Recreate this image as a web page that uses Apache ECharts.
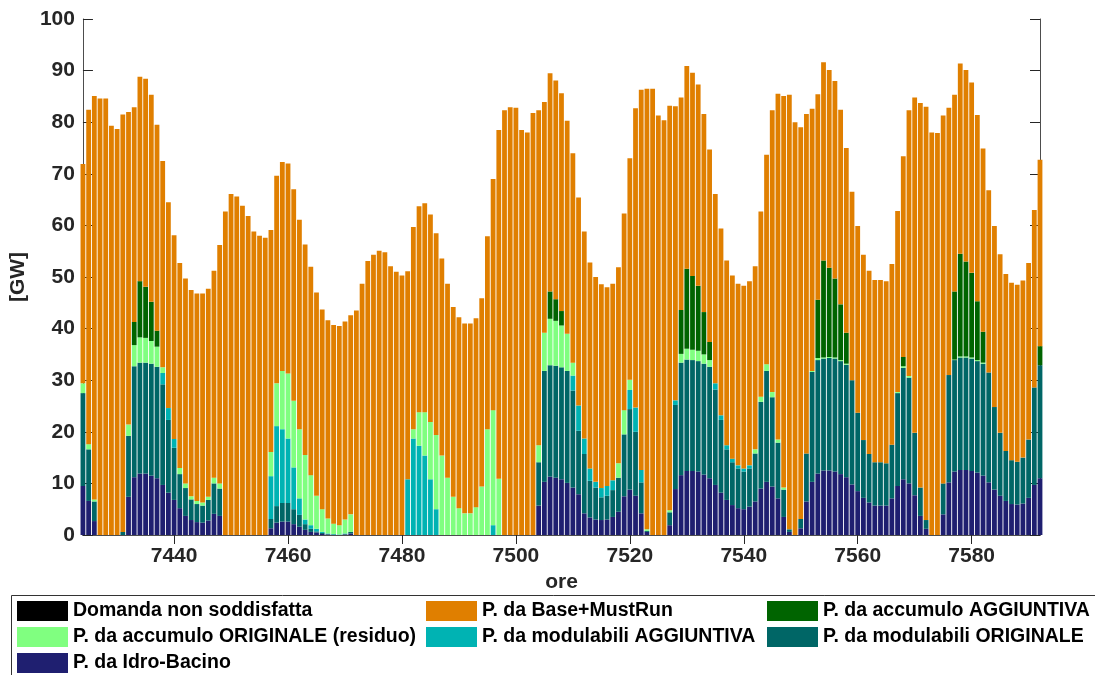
<!DOCTYPE html>
<html>
<head>
<meta charset="utf-8">
<script src="https://cdn.jsdelivr.net/npm/echarts@6/dist/echarts.min.js"></script>
<style>
  html, body { margin: 0; padding: 0; background: #ffffff; }
  #chart { width: 1095px; height: 675px; }
</style>
</head>
<body>
<div id="chart"></div>
<script>
// Ore dell'anno: prima e ultima barra tagliate a metà dai bordi dell'asse
const oraInizio = 7424;
const oraFine = 7592;
const passoEtichette = 20;

// Domanda oraria totale [GW] (cima di ogni barra)
const domandaTotale = [
  71.9, 82.4, 85.1, 84.6, 84.6, 79.3, 78.7, 81.5, 82.0, 82.9,
  88.8, 88.4, 85.3, 79.5, 72.5, 64.5, 58.1, 52.7, 49.7, 47.5,
  46.8, 46.8, 47.7, 51.2, 56.2, 62.7, 66.1, 65.6, 63.8, 61.8,
  58.8, 58.0, 57.6, 59.1, 69.6, 72.3, 72.0, 67.0, 61.1, 56.3,
  52.0, 47.0, 43.7, 41.6, 40.7, 40.5, 41.4, 42.6, 43.5, 48.7,
  53.1, 54.3, 55.1, 54.8, 52.1, 51.0, 50.3, 51.1, 59.7, 63.7,
  64.3, 62.1, 58.5, 53.6, 48.7, 44.2, 42.2, 41.0, 41.0, 42.0,
  45.9, 57.9, 69.0, 78.5, 82.3, 82.9, 82.8, 78.5, 78.0, 81.8,
  82.3, 83.9, 89.5, 88.1, 85.6, 80.3, 74.0, 65.4, 58.8, 52.8,
  50.0, 48.6, 48.0, 48.7, 51.9, 62.3, 73.0, 82.7, 86.3, 86.5,
  86.5, 81.3, 80.4, 83.2, 83.1, 84.8, 90.9, 89.6, 87.3, 81.6,
  74.7, 66.1, 59.4, 53.2, 50.3, 48.7, 48.3, 49.2, 52.1, 62.7,
  73.7, 82.3, 85.5, 85.1, 85.3, 80.0, 79.0, 81.6, 82.6, 85.4,
  91.6, 90.1, 88.0, 82.4, 75.0, 66.5, 59.9, 54.3, 51.2, 49.4,
  49.4, 49.2, 52.5, 62.8, 73.4, 82.3, 84.8, 83.7, 83.0, 78.0,
  77.9, 81.3, 82.8, 85.3, 91.4, 90.1, 87.7, 81.4, 74.9, 66.8,
  59.9, 54.4, 50.6, 48.9, 48.5, 49.3, 52.7, 63.0, 72.7
];

// P. da Idro-Bacino [GW]
const idroBacino = [
  9.5, 6.6, 2.7, 0, 0, 0, 0, 0, 7.4, 11.2,
  11.9, 11.9, 11.5, 11.0, 9.7, 8.2, 6.8, 5.2, 3.7, 2.9,
  2.5, 2.4, 2.8, 4.1, 3.7, 0, 0, 0, 0, 0,
  0, 0, 0, 1.3, 2.4, 2.6, 2.6, 2.1, 1.6, 1.0,
  0.6, 0.5, 0.2, 0.1, 0, 0, 0.1, 0.3, 0, 0,
  0, 0, 0, 0, 0, 0, 0, 0, 0, 0,
  0, 0, 0, 0, 0, 0, 0, 0, 0, 0,
  0, 0, 0, 0, 0, 0, 0, 0, 0, 0,
  5.7, 10.3, 11.3, 11.1, 10.8, 10.1, 9.2, 7.9, 4.2, 3.4,
  3.0, 2.9, 3.0, 3.5, 4.5, 7.5, 8.8, 7.6, 4.2, 0.6,
  0, 0, 0, 1.9, 8.9, 11.6, 12.4, 12.4, 12.3, 11.7,
  11.0, 9.7, 8.2, 6.8, 5.8, 5.2, 5.0, 5.5, 6.5, 9.0,
  10.3, 9.4, 7.1, 3.5, 0.6, 0, 1.3, 6.5, 10.3, 11.9,
  12.5, 12.5, 12.3, 11.8, 11.2, 9.8, 8.5, 7.2, 6.3, 5.7,
  5.7, 5.7, 7.1, 9.5, 10.8, 10.0, 7.7, 3.7, 1.2, 0,
  0, 4.0, 10.2, 12.3, 12.6, 12.6, 12.4, 12.1, 11.5, 10.2,
  8.8, 7.6, 6.6, 6.0, 5.9, 6.1, 7.2, 9.7, 11.0
];

// P. da modulabili ORIGINALE [GW]
const modulabiliOriginale = [
  18.0, 10.0, 3.8, 0, 0, 0, 0, 0.6, 11.8, 21.5,
  21.5, 21.5, 21.7, 21.6, 19.5, 14.1, 10.1, 6.6, 5.4, 4.0,
  3.5, 3.3, 4.0, 5.9, 5.3, 0, 0, 0, 0, 0,
  0, 0, 0, 1.8, 3.2, 3.6, 3.6, 2.9, 2.3, 1.1,
  0.6, 0.2, 0.2, 0.1, 0.1, 0, 0.1, 0.3, 0, 0,
  0, 0, 0, 0, 0, 0, 0, 0, 0, 0,
  0, 0, 0, 0, 0, 0, 0, 0, 0, 0,
  0, 0, 0, 0, 0, 0, 0, 0, 0, 0,
  8.4, 21.5, 21.6, 21.7, 21.7, 21.7, 18.8, 12.3, 11.5, 7.1,
  6.2, 4.4, 4.6, 5.2, 6.6, 12.0, 15.6, 12.4, 6.0, 0.2,
  0, 0, 0, 2.5, 16.3, 21.8, 21.6, 21.5, 21.4, 21.5,
  21.6, 18.5, 14.1, 9.8, 8.3, 7.7, 7.3, 7.4, 9.3, 16.8,
  21.5, 17.3, 10.8, 5.3, 0.5, 0, 1.8, 9.3, 21.3, 22.0,
  21.7, 21.8, 21.9, 21.9, 21.8, 20.2, 15.2, 11.2, 9.4, 8.4,
  8.4, 8.2, 10.4, 18.0, 21.6, 20.5, 12.1, 5.5, 1.7, 0,
  0, 6.0, 20.8, 21.6, 21.8, 21.8, 21.8, 21.6, 21.7, 21.3,
  16.0, 12.2, 9.7, 8.5, 8.3, 8.9, 11.3, 18.9, 21.9
];

// P. da modulabili AGGIUNTIVA [GW]
const modulabiliAggiuntiva = [
  0, 0, 0, 0, 0, 0, 0, 0, 0, 0,
  0, 0, 0, 0, 2.2, 2.3, 1.7, 0, 0, 0,
  0, 0, 0, 0, 0, 0, 0, 0, 0, 0,
  0, 0, 0, 8.3, 15.5, 14.3, 12.5, 8.1, 3.2, 0.9,
  0.7, 0.5, 0.2, 0.1, 0.1, 0.1, 0.1, 0, 0, 0,
  0, 0, 0, 0, 0, 0, 0, 10.8, 18.7, 17.3,
  15.4, 10.8, 5.0, 0, 0, 0, 0, 0, 0, 0,
  0, 0, 1.9, 0, 0, 0, 0, 0, 0, 0,
  0, 0, 0, 0, 0, 0, 2.9, 4.9, 3.0, 2.4,
  1.1, 1.8, 1.9, 1.9, 0, 0, 3.7, 4.7, 2.4, 0,
  0, 0, 0, 0, 0.9, 0, 0, 0, 0, 0,
  0, 1.2, 0.9, 0.8, 0.7, 0.6, 0.6, 0.6, 0, 0,
  0, 0, 0, 0, 0, 0, 0, 0, 0, 0,
  0, 0, 0, 0, 0, 0, 0, 0, 0, 0,
  0, 0, 0, 0, 0, 0, 0, 0, 0, 0,
  0, 0, 0, 0, 0, 0, 0, 0, 0, 0,
  0, 0, 0, 0, 0, 0, 0, 0, 0
];

// P. da accumulo ORIGINALE (residuo) [GW]
const accumuloOriginale = [
  1.9, 1.0, 0.4, 0, 0, 0, 0, 0, 2.2, 4.1,
  4.9, 4.8, 4.4, 3.9, 1.1, 0, 0, 1.2, 0.9, 0.6,
  0.6, 0.6, 0.6, 1.1, 1.0, 0, 0, 0, 0, 0,
  0, 0, 0, 4.7, 8.3, 11.3, 12.6, 12.9, 13.4, 12.5,
  9.7, 6.4, 4.4, 2.9, 2.0, 1.8, 2.7, 3.4, 0, 0,
  0, 0, 0, 0, 0, 0, 0, 0, 1.8, 6.5,
  8.4, 11.1, 14.4, 15.4, 11.1, 7.4, 5.2, 4.2, 4.2, 5.4,
  9.4, 20.5, 22.3, 10.9, 0, 0, 0, 0, 0, 0,
  3.3, 7.4, 9.0, 8.7, 8.1, 7.2, 2.5, 0, 0, 0,
  0, 0, 0, 0, 2.8, 4.7, 2.0, 0, 0, 0.3,
  0, 0, 0, 0.4, 0, 1.7, 2.1, 2.0, 2.0, 1.8,
  1.3, 0, 0, 0, 0, 0, 0, 0, 0.8, 1.0,
  1.3, 1.0, 0.6, 0.4, 0, 0, 0, 0, 0.2, 0.4,
  0.2, 0.2, 0.2, 0.2, 0.2, 0, 0, 0, 0, 0,
  0, 0, 0, 0.2, 0.3, 0.3, 0, 0, 0, 0,
  0, 0, 0, 0.1, 0.2, 0.2, 0.2, 0.2, 0.2, 0,
  0, 0, 0, 0, 0, 0, 0, 0, 0
];

// P. da accumulo AGGIUNTIVA [GW]
const accumuloAggiuntiva = [
  0, 0, 0, 0, 0, 0, 0, 0, 0, 4.5,
  10.9, 9.9, 7.6, 3.1, 0, 0, 0, 0, 0, 0,
  0, 0, 0, 0, 0, 0, 0, 0, 0, 0,
  0, 0, 0, 0, 0, 0, 0, 0, 0, 0,
  0, 0, 0, 0, 0, 0, 0, 0, 0, 0,
  0, 0, 0, 0, 0, 0, 0, 0, 0, 0,
  0, 0, 0, 0, 0, 0, 0, 0, 0, 0,
  0, 0, 0, 0, 0, 0, 0, 0, 0, 0,
  0, 0, 5.3, 4.2, 2.8, 0, 0, 0, 0, 0,
  0, 0, 0, 0, 0, 0, 0, 0, 0, 0,
  0, 0, 0, 0, 0, 8.5, 15.5, 14.3, 12.6, 8.2,
  3.5, 0, 0, 0, 0, 0, 0, 0, 0, 0,
  0, 0, 0, 0, 0, 0, 0, 0, 0, 11.3,
  18.8, 17.3, 15.3, 10.8, 6.0, 0, 0, 0, 0, 0,
  0, 0, 0, 0, 1.8, 0, 0, 0, 0, 0,
  0, 0, 0, 13.2, 19.9, 18.4, 16.4, 11.4, 6.0, 0,
  0, 0, 0, 0, 0, 0, 0, 0, 3.7
];

// Domanda non soddisfatta [GW]
const domandaNonSoddisfatta = new Array(domandaTotale.length).fill(0);

// Quota coperta da Base+MustRun: quanto resta della domanda sopra le altre fonti
const baseMustRun = domandaTotale.map((tot, i) => {
  const altre = idroBacino[i] + modulabiliOriginale[i] + modulabiliAggiuntiva[i]
              + accumuloOriginale[i] + accumuloAggiuntiva[i];
  return Math.max(0, +(tot - altre).toFixed(2));
});

// Categorie orarie dell'asse x
const ore = [];
for (let h = oraInizio; h <= oraFine; h++) ore.push(String(h));

const FONT = "'Liberation Sans', Arial, Helvetica, sans-serif";
const isOraEtichetta = (idx, val) => Number(val) % passoEtichette === 0;

const fonti = [
  { name: 'P. da Idro-Bacino', data: idroBacino, color: '#1f1f70' },
  { name: 'P. da modulabili ORIGINALE', data: modulabiliOriginale, color: '#006666' },
  { name: 'P. da modulabili AGGIUNTIVA', data: modulabiliAggiuntiva, color: '#00b3b3' },
  { name: 'P. da accumulo ORIGINALE (residuo)', data: accumuloOriginale, color: '#80ff80' },
  { name: 'P. da accumulo AGGIUNTIVA', data: accumuloAggiuntiva, color: '#006400' },
  { name: 'P. da Base+MustRun', data: baseMustRun, color: '#e07f00' },
  { name: 'Domanda non soddisfatta', data: domandaNonSoddisfatta, color: '#000000' }
];

const legendBase = {
  orient: 'vertical',
  top: 601,
  padding: 0,
  itemWidth: 51,
  itemHeight: 20,
  itemGap: 6,
  icon: 'rect',
  selectedMode: false,
  textStyle: { fontFamily: FONT, fontSize: 19.5, fontWeight: 'bold', color: '#000', lineHeight: 20 }
};

const axisLineStyle = { color: '#4d4d4d', width: 1 };
const tickStyle = { color: '#262626', width: 1 };

const chart = echarts.init(document.getElementById('chart'), null, { renderer: 'canvas' });
chart.setOption({
  animation: false,
  backgroundColor: '#ffffff',
  grid: { left: 75, top: 19, width: 965, height: 516 },
  xAxis: [
    {
      type: 'category', data: ore, boundaryGap: false, position: 'bottom',
      name: 'ore', nameLocation: 'middle', nameGap: 31,
      nameTextStyle: { fontFamily: FONT, fontSize: 21, fontWeight: 'bold', color: '#262626' },
      axisLine: { show: true, lineStyle: axisLineStyle },
      axisTick: { show: true, inside: true, length: 9, interval: isOraEtichetta, lineStyle: tickStyle },
      axisLabel: { interval: isOraEtichetta, fontFamily: FONT, fontSize: 21, fontWeight: 'bold', color: '#262626', margin: 11 },
      splitLine: { show: false }
    },
    {
      type: 'category', data: ore, boundaryGap: false, position: 'top',
      axisLine: { show: true, lineStyle: axisLineStyle },
      axisTick: { show: true, inside: true, length: 9, interval: isOraEtichetta, lineStyle: tickStyle },
      axisLabel: { show: false },
      splitLine: { show: false }
    }
  ],
  yAxis: [
    {
      type: 'value', min: 0, max: 100, interval: 10, position: 'left',
      name: '[GW]', nameLocation: 'middle', nameGap: 44,
      nameTextStyle: { fontFamily: FONT, fontSize: 21, fontWeight: 'bold', color: '#262626' },
      axisLine: { show: true, lineStyle: axisLineStyle },
      axisTick: { show: true, inside: true, length: 10, lineStyle: tickStyle },
      axisLabel: { fontFamily: FONT, fontSize: 21, fontWeight: 'bold', color: '#262626', margin: 8 },
      splitLine: { show: false }
    },
    {
      type: 'value', min: 0, max: 100, interval: 10, position: 'right',
      axisLine: { show: true, lineStyle: axisLineStyle },
      axisTick: { show: true, inside: true, length: 10, lineStyle: tickStyle },
      axisLabel: { show: false },
      splitLine: { show: false }
    }
  ],
  legend: [
    Object.assign({}, legendBase, { left: 17, data: ['Domanda non soddisfatta', 'P. da accumulo ORIGINALE (residuo)', 'P. da Idro-Bacino'] }),
    Object.assign({}, legendBase, { left: 426, data: ['P. da Base+MustRun', 'P. da modulabili AGGIUNTIVA'] }),
    Object.assign({}, legendBase, { left: 767, data: ['P. da accumulo AGGIUNTIVA', 'P. da modulabili ORIGINALE'] })
  ],
  graphic: [
    {
      type: 'rect', z: 0, silent: true,
      shape: { x: 11.5, y: 595.5, width: 1100, height: 120 },
      style: { fill: 'none', stroke: '#333333', lineWidth: 1 }
    }
  ],
  series: fonti.map(f => ({
    name: f.name,
    type: 'bar',
    stack: 'fonti',
    xAxisIndex: 0,
    yAxisIndex: 0,
    barWidth: 4.8,
    clip: true,
    itemStyle: { color: f.color },
    emphasis: { disabled: true },
    data: f.data
  }))
});
</script>
</body>
</html>
